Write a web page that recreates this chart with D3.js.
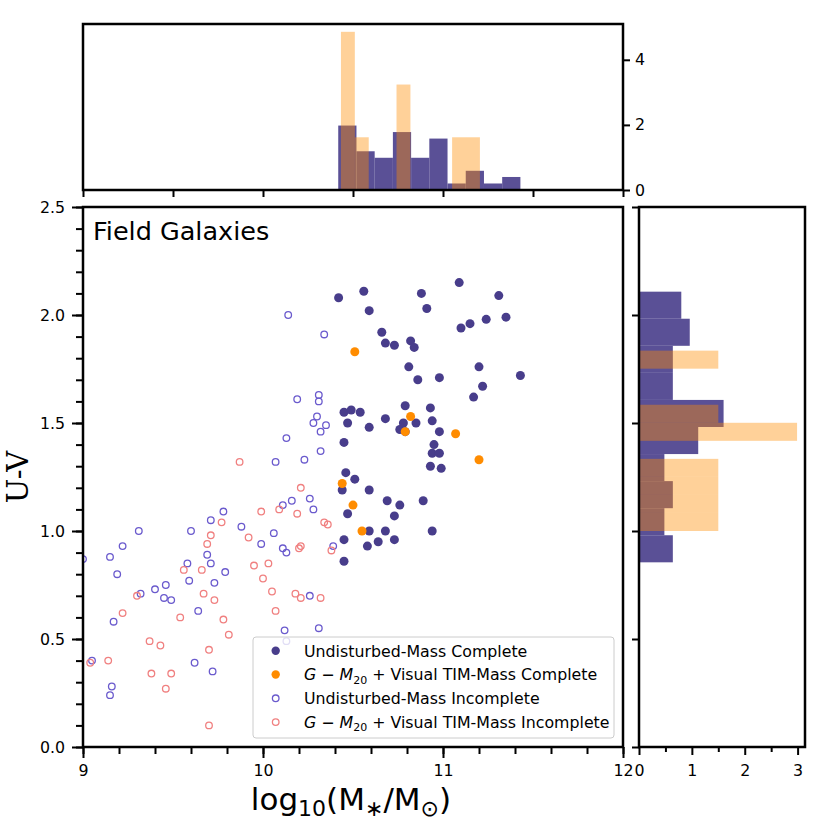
<!DOCTYPE html>
<html>
<head>
<meta charset="utf-8">
<script src="https://cdn.jsdelivr.net/npm/d3@7"></script>
<style>
  body { margin: 0; background: #fff; }
  svg text { font-family: "DejaVu Sans", sans-serif; fill: #000; }
</style>
</head>
<body>
<div id="chart"></div>
<script>
// ---- scatter data: [log10 M*, U-V] ----
const undisturbedComplete = [
  [10.42,2.08],[10.56,2.11],[10.59,2.02],[10.88,2.10],[10.91,2.03],[11.09,2.15],[11.31,2.09],
  [11.10,1.94],[11.15,1.96],[11.24,1.98],[11.35,1.99],[10.66,1.92],[10.68,1.87],[10.73,1.86],
  [10.82,1.88],[10.84,1.85],[10.81,1.76],[10.86,1.70],[10.98,1.71],[11.20,1.76],[11.22,1.67],
  [11.17,1.62],[11.43,1.72],[10.45,1.55],[10.49,1.56],[10.54,1.55],[10.47,1.50],[10.59,1.48],
  [10.45,1.41],[10.68,1.52],[10.79,1.58],[10.76,1.47],[10.78,1.50],[10.85,1.50],[10.79,1.46],
  [10.93,1.57],[10.94,1.51],[10.98,1.46],[10.95,1.40],[10.94,1.36],[10.98,1.36],[10.93,1.30],
  [10.99,1.29],[10.46,1.27],[10.51,1.24],[10.44,1.19],[10.59,1.19],[10.69,1.14],[10.76,1.12],
  [10.89,1.14],[10.73,1.07],[10.47,1.08],[10.59,1.00],[10.68,1.00],[10.94,1.00],[10.45,0.96],
  [10.58,0.93],[10.64,0.95],[10.73,0.96],[10.45,0.86]
];
const timComplete = [
  [10.51,1.83],[10.82,1.53],[10.79,1.46],[11.07,1.45],[11.20,1.33],[10.44,1.22],[10.50,1.12],[10.55,1.00]
];
const undisturbedIncomplete = [
  [10.14,2.00],[10.34,1.91],[10.19,1.61],[10.31,1.63],[10.31,1.60],[10.30,1.53],[10.28,1.50],
  [10.35,1.49],[10.32,1.46],[10.13,1.43],[10.32,1.37],[10.07,1.32],[10.23,1.33],[10.26,1.15],
  [10.28,1.10],[10.16,1.14],[10.11,1.12],[9.78,1.09],[9.71,1.05],[9.88,1.02],[10.06,0.99],
  [9.99,0.94],[10.11,0.92],[10.13,0.90],[10.39,0.93],[9.31,1.00],[9.60,1.00],[9.22,0.93],
  [9.15,0.88],[9.00,0.87],[9.19,0.80],[9.58,0.85],[9.71,0.85],[9.69,0.89],[9.79,0.81],
  [9.59,0.77],[9.73,0.76],[9.46,0.75],[9.40,0.73],[9.32,0.71],[9.45,0.69],[9.49,0.68],
  [10.26,0.70],[9.64,0.63],[9.17,0.58],[10.12,0.54],[10.31,0.55],[10.13,0.49],[9.05,0.40],
  [9.62,0.39],[9.72,0.35],[9.16,0.28],[9.15,0.24]
];
const timIncomplete = [
  [9.87,1.32],[10.21,1.20],[9.99,1.09],[10.09,1.10],[10.19,1.08],[9.77,1.04],[10.34,1.04],
  [10.36,1.03],[9.71,0.98],[9.92,0.97],[9.69,0.94],[10.21,0.93],[10.20,0.92],[10.38,0.91],
  [9.56,0.82],[9.66,0.82],[9.95,0.84],[10.03,0.85],[10.00,0.78],[10.05,0.72],[9.67,0.71],
  [9.73,0.68],[9.30,0.70],[10.18,0.71],[10.21,0.69],[10.32,0.69],[9.22,0.62],[9.54,0.60],
  [10.07,0.63],[9.78,0.59],[9.81,0.52],[9.37,0.49],[9.43,0.47],[9.70,0.45],[9.04,0.39],
  [9.14,0.40],[9.38,0.34],[9.49,0.34],[9.46,0.27],[9.70,0.10],[8.98,0.22]
];

// ---- histogram data (density), 10 equal bins over each range ----
const massHistBlueRange = [10.418, 11.43];
const massHistBlue = [1.98, 1.19, 0.99, 1.78, 0.99, 1.58, 0.20, 0.59, 0.20, 0.40];
const massHistOrangeRange = [10.433, 11.205];
const massHistOrange = [4.86, 1.62, 0, 0, 3.24, 0, 0, 0, 1.62, 1.62];
const colorHistBlueRange = [0.855, 2.108];
const colorHistBlue = [0.64, 0.48, 0.64, 0.48, 1.12, 1.60, 0.64, 0.64, 0.96, 0.80];
const colorHistOrangeRange = [1.0, 1.835];
const colorHistOrange = [1.50, 1.50, 1.50, 1.50, 0, 2.99, 1.50, 0, 0, 1.50];

// ---- ticks ----
const massMajor = [9, 10, 11, 12];
const massMinor = d3.range(0, 16).map(i => 9 + i * 0.2);
const massHalf = d3.range(0, 7).map(i => 9 + i * 0.5);
const uvMajor = [0, 0.5, 1.0, 1.5, 2.0, 2.5];
const uvMinor = d3.range(0, 26).map(i => i * 0.1);
const countTicks = [0, 2, 4];
const sideMajor = [0, 1, 2, 3];
const sideMinor = [0.5, 1.5, 2.5];

const legendItems = [
  { label: "Undisturbed-Mass Complete", color: "#483d8b", filled: true },
  { label: "TIM-Mass Complete", color: "#ff8c00", filled: true, gm: true },
  { label: "Undisturbed-Mass Incomplete", color: "#6a5acd", filled: false },
  { label: "TIM-Mass Incomplete", color: "#f08080", filled: false, gm: true }
];

const W = 830, H = 830;
const main = { left: 83, right: 623, top: 207, bottom: 747 };
const topBox = { left: 83, right: 623, top: 24, bottom: 190 };
const side = { left: 639, right: 805, top: 207, bottom: 747 };

const svg = d3.select("#chart").append("svg").attr("width", W).attr("height", H);

const x = d3.scaleLinear().domain([9, 12]).range([main.left, main.right]);
const y = d3.scaleLinear().domain([0, 2.5]).range([main.bottom, main.top]);
const yTop = d3.scaleLinear().domain([0, 5.1]).range([topBox.bottom, topBox.top]);
const xSide = d3.scaleLinear().domain([0, 3.14]).range([side.left, side.right]);

const defs = svg.append("defs");
function clip(id, b) {
  defs.append("clipPath").attr("id", id).append("rect")
    .attr("x", b.left).attr("y", b.top)
    .attr("width", b.right - b.left).attr("height", b.bottom - b.top);
}
clip("clipMain", main); clip("clipTop", topBox); clip("clipSide", side);

function bins(range, vals) {
  const w = (range[1] - range[0]) / vals.length;
  return vals.map((v, i) => ({ a: range[0] + i * w, b: range[0] + (i + 1) * w, v }))
    .filter(d => d.v > 0);
}

// ---- top histogram ----
const gTop = svg.append("g").attr("clip-path", "url(#clipTop)");
[[massHistBlueRange, massHistBlue, "#483d8b", 0.9], [massHistOrangeRange, massHistOrange, "#ff8c00", 0.4]]
  .forEach(([r, v, c, o]) => {
    gTop.append("g").selectAll("rect").data(bins(r, v)).join("rect")
      .attr("x", d => x(d.a)).attr("width", d => x(d.b) - x(d.a))
      .attr("y", d => yTop(d.v)).attr("height", d => yTop(0) - yTop(d.v))
      .attr("fill", c).attr("fill-opacity", o);
  });

// ---- side histogram ----
const gSide = svg.append("g").attr("clip-path", "url(#clipSide)");
[[colorHistBlueRange, colorHistBlue, "#483d8b", 0.9], [colorHistOrangeRange, colorHistOrange, "#ff8c00", 0.4]]
  .forEach(([r, v, c, o]) => {
    gSide.append("g").selectAll("rect").data(bins(r, v)).join("rect")
      .attr("y", d => y(d.b)).attr("height", d => y(d.a) - y(d.b))
      .attr("x", xSide(0)).attr("width", d => xSide(d.v) - xSide(0))
      .attr("fill", c).attr("fill-opacity", o);
  });

// ---- scatter ----
const gPts = svg.append("g").attr("clip-path", "url(#clipMain)");
function dots(data, color, filled) {
  gPts.append("g").selectAll("circle").data(data).join("circle")
    .attr("cx", d => x(d[0])).attr("cy", d => y(d[1]))
    .attr("r", filled ? 4.5 : 3.3)
    .attr("fill", filled ? color : "none")
    .attr("stroke", filled ? "none" : color)
    .attr("stroke-width", 1.3);
}
dots(undisturbedComplete, "#483d8b", true);
dots(timComplete, "#ff8c00", true);
dots(undisturbedIncomplete, "#6a5acd", false);
dots(timIncomplete, "#f08080", false);

// ---- axes ----
function styleAxis(g, w) {
  g.select(".domain").remove();
  g.selectAll(".tick line").attr("stroke", "#000").attr("stroke-width", w || 2);
  g.selectAll(".tick text").attr("font-size", "15.8px").attr("fill", "#000")
    .attr("font-family", "DejaVu Sans, sans-serif");
}
const fmtInt = d3.format("d"), fmt1 = d3.format(".1f");

// main x
svg.append("g").attr("transform", `translate(0,${main.bottom})`)
  .call(d3.axisBottom(x).tickValues(massMinor).tickSize(7).tickFormat(""))
  .call(styleAxis);
svg.append("g").attr("transform", `translate(0,${main.bottom})`)
  .call(d3.axisBottom(x).tickValues(massMajor).tickSize(11).tickPadding(7).tickFormat(fmtInt))
  .call(styleAxis);
// main y
svg.append("g").attr("transform", `translate(${main.left},0)`)
  .call(d3.axisLeft(y).tickValues(uvMinor).tickSize(7).tickFormat(""))
  .call(styleAxis);
svg.append("g").attr("transform", `translate(${main.left},0)`)
  .call(d3.axisLeft(y).tickValues(uvMajor).tickSize(11).tickPadding(7).tickFormat(fmt1))
  .call(styleAxis);
// top hist
svg.append("g").attr("transform", `translate(0,${topBox.bottom})`)
  .call(d3.axisBottom(x).tickValues(massHalf).tickSize(7).tickFormat(""))
  .call(styleAxis);
svg.append("g").attr("transform", `translate(${topBox.right},0)`)
  .call(d3.axisRight(yTop).tickValues(countTicks).tickSize(7).tickPadding(5).tickFormat(fmtInt))
  .call(styleAxis);
// side hist
svg.append("g").attr("transform", `translate(${side.left},0)`)
  .call(d3.axisLeft(y).tickValues(uvMajor).tickSize(7).tickFormat(""))
  .call(styleAxis);
svg.append("g").attr("transform", `translate(0,${side.bottom})`)
  .call(d3.axisBottom(xSide).tickValues(sideMinor).tickSize(5).tickFormat(""))
  .call(styleAxis);
svg.append("g").attr("transform", `translate(0,${side.bottom})`)
  .call(d3.axisBottom(xSide).tickValues(sideMajor).tickSize(8).tickPadding(10).tickFormat(fmtInt))
  .call(styleAxis);

// spines
[main, topBox, side].forEach(b => {
  svg.append("rect").attr("x", b.left).attr("y", b.top)
    .attr("width", b.right - b.left).attr("height", b.bottom - b.top)
    .attr("fill", "none").attr("stroke", "#000").attr("stroke-width", 2.5);
});

// ---- legend ----
const lg = svg.append("g");
lg.append("rect").attr("x", 253).attr("y", 637).attr("width", 361).attr("height", 101)
  .attr("rx", 3).attr("fill", "#fff").attr("fill-opacity", 0.8)
  .attr("stroke", "#cccccc").attr("stroke-width", 1);
legendItems.forEach((it, i) => {
  const cy = 650.7 + i * 23.8;
  lg.append("circle").attr("cx", 275.7).attr("cy", cy)
    .attr("r", it.filled ? 4.2 : 3.3)
    .attr("fill", it.filled ? it.color : "none")
    .attr("stroke", it.filled ? "none" : it.color).attr("stroke-width", 1.3);
  const t = lg.append("text").attr("x", 304).attr("y", cy + 5.8).attr("font-size", "15.8px");
  if (it.gm) {
    t.append("tspan").attr("font-style", "italic").text("G");
    t.append("tspan").text(" \u2212 ");
    t.append("tspan").attr("font-style", "italic").text("M");
    t.append("tspan").attr("font-size", "11px").attr("dy", 3.5).text("20");
    t.append("tspan").attr("dy", -3.5).text(" + Visual " + it.label);
  } else {
    t.text(it.label);
  }
});

// ---- labels ----
svg.append("text").attr("x", 93).attr("y", 240).attr("font-size", "25.5px").text("Field Galaxies");

svg.append("text").attr("transform", "translate(28,477) rotate(-90)")
  .attr("text-anchor", "middle").attr("font-size", "29px")
  .style("font-family", "'DejaVu Serif', serif").text("U-V");

const xl = svg.append("text").attr("x", 351).attr("y", 810)
  .attr("text-anchor", "middle").attr("font-size", "31px");
xl.append("tspan").text("log");
xl.append("tspan").attr("font-size", "22px").attr("dy", 6).text("10");
xl.append("tspan").attr("dy", -6).text("(M");
xl.append("tspan").attr("font-size", "22px").attr("dy", 6).text("\u2217");
xl.append("tspan").attr("dy", -6).text("/M");
xl.append("tspan").attr("font-size", "22px").attr("dy", 6).text("\u2299");
xl.append("tspan").attr("dy", -6).text(")");
</script>
</body>
</html>
